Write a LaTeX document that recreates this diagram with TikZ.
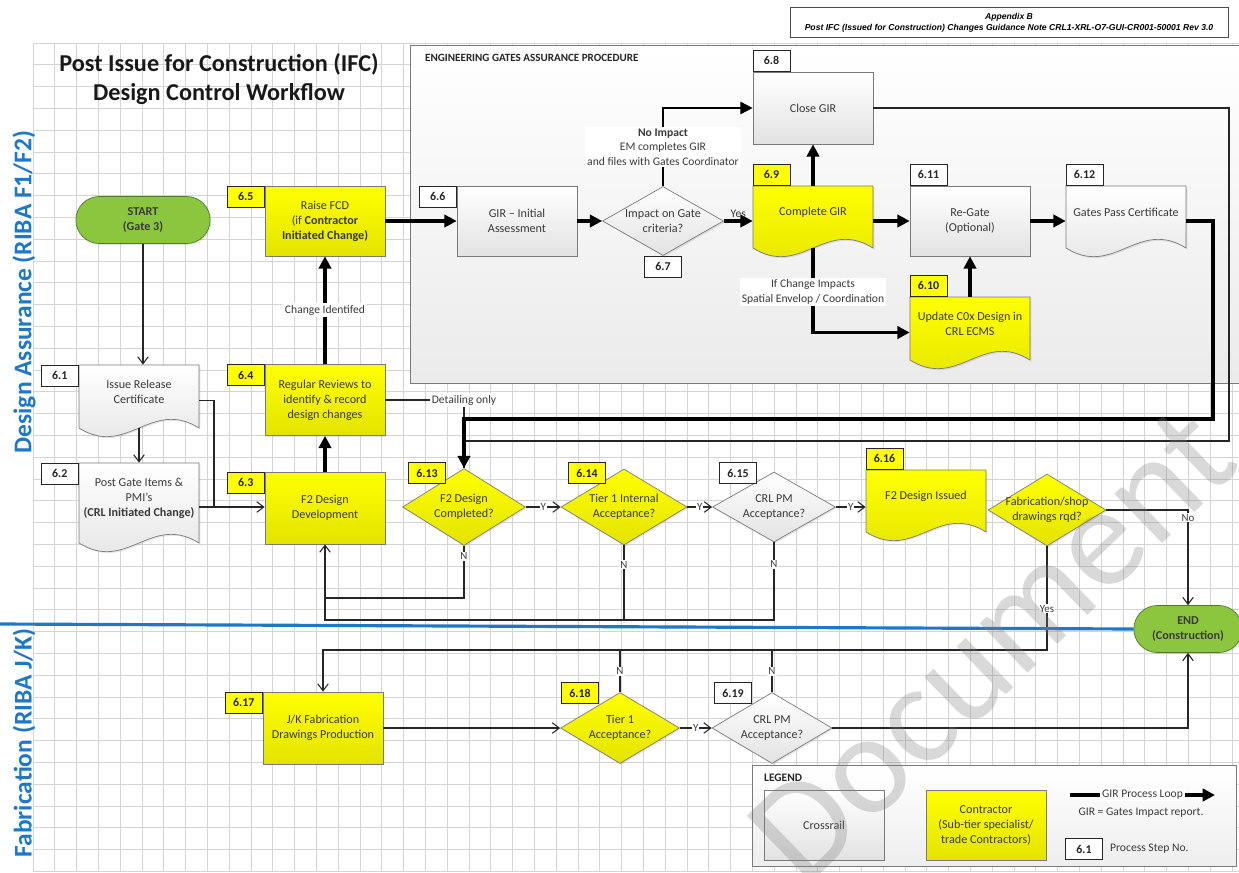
\documentclass[tikz,border=0pt]{standalone}
\usepackage{fontspec}
\setmainfont{Carlito}
\newfontfamily\hdrfont{Liberation Sans}
\usetikzlibrary{arrows.meta,shapes.geometric,shapes.misc,shadows}

\definecolor{cyel}{HTML}{FFFF00}
\definecolor{cyeldk}{HTML}{E3E300}
\definecolor{cgrey}{HTML}{E2E2E2}
\definecolor{cedge}{HTML}{7A7A7A}
\definecolor{cgreen}{HTML}{8CC63F}
\definecolor{cgreendk}{HTML}{4F7A28}
\definecolor{cblue}{HTML}{1E78C8}
\definecolor{ctext}{HTML}{3A3A3A}
\definecolor{cgrid}{HTML}{D4D4D4}

\newcommand{\zb}[1]{\makebox[0pt]{#1}}
% document symbol: name, left, top, side height, look, text
\newcommand{\docshape}[6]{%
  \path[#5] (#2,#3) -- (#2+120,#3) -- (#2+120,#3+#4)
    .. controls (#2+72,#3+#4-30) and (#2+48,#3+#4+30) .. (#2,#3+#4) -- cycle;
  \node[docanchor,minimum height={(#4+8)*0.02cm}] (#1) at (#2+60,#3+#4/2+4) {};
  \coordinate (#1-b) at (#2+60,#3+#4);
  \node[boxtext] (#1-t) at (#2+60,#3+#4/2-5) {#6};
}

\begin{document}
\begin{tikzpicture}[x=0.02cm,y=-0.02cm,>={Triangle[length=7pt,width=7pt]},
                    font=\fontsize{6.9}{8.5}\selectfont]
  \tikzstyle{boxtext}=[text=ctext,align=center,font=\fontsize{6.9}{8.5}\selectfont]
  \tikzstyle{crl}=[draw=cedge,top color=white,bottom color=cgrey,
                   drop shadow={opacity=0.2,shadow xshift=0.8pt,shadow yshift=-0.8pt}]
  \tikzstyle{con}=[draw=cedge,top color=cyel,bottom color=cyeldk,
                   drop shadow={opacity=0.2,shadow xshift=0.8pt,shadow yshift=-0.8pt}]
  \tikzstyle{procbox}=[rectangle,boxtext,minimum width=2.4cm,minimum height=1.4cm,inner sep=1pt]
  \tikzstyle{docanchor}=[rectangle,minimum width=2.4cm,inner sep=0pt]
  \tikzstyle{gate}=[diamond,boxtext,inner sep=0pt]
  \tikzstyle{tag}=[rectangle,draw=black!85,fill=white,text=black!85,
                   font=\fontsize{6.8}{8}\selectfont\bfseries,
                   minimum width=0.74cm,minimum height=0.42cm,inner sep=0pt]
  \tikzstyle{ktag}=[tag,fill=cyel]
  \tikzstyle{terminal}=[rounded rectangle,draw=cgreendk,fill=cgreen,text=ctext,align=center,
                        font=\fontsize{6.9}{8.5}\selectfont\bfseries,minimum height=0.94cm,
                        drop shadow={opacity=0.2,shadow xshift=0.8pt,shadow yshift=-0.8pt}]
  \tikzstyle{flow}=[draw=black!85,line width=0.6pt,-{Straight Barb[length=4pt,width=6pt]}]
  \tikzstyle{flowline}=[draw=black!85,line width=0.6pt]
  \tikzstyle{loopflow}=[draw=black,line width=1.8pt,->]
  \tikzstyle{lbl}=[fill=white,inner sep=1pt,text=ctext,align=center,font=\fontsize{6.6}{8.2}\selectfont]
  \tikzstyle{yn}=[fill=white,inner sep=0.6pt,text=ctext,font=\fontsize{6.2}{7}\selectfont]

  \useasboundingbox (0,0) rectangle (1239,872);

  % grid paper
  \foreach \gx in {0,...,55}
    \draw[cgrid,line width=0.5pt] (33+\gx*21.8,43) -- (33+\gx*21.8,872);
  \foreach \gy in {0,...,38}
    \draw[cgrid,line width=0.5pt] (33,43+\gy*21.8) -- (1239,43+\gy*21.8);

  \node[draw=black!70,fill=white,minimum width=8.76cm,minimum height=0.58cm,align=center,
        font=\hdrfont\fontsize{4.9}{6.2}\selectfont\bfseries\itshape] (hdr) at (1009,22.5)
        {Appendix B\\Post IFC (Issued for Construction) Changes Guidance Note CRL1-XRL-O7-GUI-CR001-50001 Rev 3.0};

  \node[font=\fontsize{13.8}{16.5}\selectfont\bfseries,align=center,text=black!90] (ttl) at (219,79)
        {Post Issue for Construction (IFC)\\Design Control Workflow};
  \node[rotate=90,text=cblue,font=\fontsize{14.5}{15}\selectfont\bfseries,inner sep=0pt] (lane1) at (24,292)
        {Design Assurance (RIBA F1/F2)};
  \node[rotate=90,text=cblue,font=\fontsize{14.5}{15}\selectfont\bfseries,inner sep=0pt,anchor=east] (lane2) at (24,628)
        {Fabrication (RIBA J/K)};

  % engineering gates panel
  \node[draw=cedge,top color=white,bottom color=cgrey!70,anchor=north west,inner sep=0pt,
        minimum width=16.9cm,minimum height=6.76cm] (eng) at (410,45) {};
  \node[anchor=west,font=\fontsize{6.3}{7}\selectfont\bfseries,text=black!85] (engt) at (419,58)
        {ENGINEERING GATES ASSURANCE PROCEDURE};

  \coordinate (bl) at (0,624);

  % design assurance lane
  \node[terminal,minimum width=2.92cm] (start) at (143,220) {START\\(Gate 3)};
  \docshape{i1}{79}{365}{63}{crl}{Issue Release\\Certificate}
  \docshape{i2}{79}{463}{80}{crl}{Post Gate Items \&\\PMI’s\\\textbf{(CRL Initiated Change)}}
  \node[tag,anchor=north east] (t1) at (i1.north west) {6.1};
  \node[tag,anchor=north east] (t2) at (i2.north west) {6.2};

  \node[procbox,con] (b5) at (325,221) {Raise FCD\\(if \textbf{Contractor}\\\textbf{Initiated Change)}};
  \node[procbox,con,minimum height=1.42cm] (b4) at (325,400) {Regular Reviews to\\identify \& record\\design changes};
  \node[procbox,con,minimum height=1.44cm] (b3) at (325,508) {F2 Design\\Development};
  \node[ktag,anchor=north east] (t5) at (b5.north west) {6.5};
  \node[ktag,anchor=north east] (t4) at (b4.north west) {6.4};
  \node[ktag,anchor=north east] (t3) at (b3.north west) {6.3};

  \node[procbox,crl] (g6) at (517,221) {GIR – Initial\\Assessment};
  \node[tag,anchor=north east] (t6) at (g6.north west) {6.6};
  \node[gate,crl,minimum width=2.42cm,minimum height=1.38cm] (q7) at (663,221)
        {\zb{Impact on Gate}\\\zb{criteria?}};
  \node[tag,anchor=north] (t7) at (q7.south) {6.7};
  \node[procbox,crl,minimum height=1.44cm] (c8) at (813,108) {Close GIR};
  \node[tag,anchor=south west] (t8) at (c8.north west) {6.8};
  \docshape{c9}{753}{186}{62}{con}{Complete GIR}
  \node[ktag,anchor=south west] (t9) at (c9.north west) {6.9};
  \node[procbox,crl] (r11) at (970,221) {Re-Gate\\(Optional)};
  \node[tag,anchor=south west] (t11) at (r11.north west) {6.11};
  \docshape{u10}{910}{297}{63}{con}{Update C0x Design in\\CRL ECMS}
  \node[ktag,anchor=south west] (t10) at (u10.north west) {6.10};
  \docshape{p12}{1066}{186}{62}{crl}{Gates Pass Certificate}
  \node[tag,anchor=south west] (t12) at (p12.north west) {6.12};

  \node[gate,con,minimum width=2.46cm,minimum height=1.54cm] (d13) at (464,507)
        {\zb{F2 Design}\\\zb{Completed?}};
  \node[ktag] (t13) at (427,473) {6.13};
  \node[gate,con,minimum width=2.52cm,minimum height=1.52cm] (d14) at (624,507)
        {\zb{Tier 1 Internal}\\\zb{Acceptance?}};
  \node[ktag] (t14) at (587,473) {6.14};
  \node[gate,crl,minimum width=2.46cm,minimum height=1.4cm] (d15) at (774,507)
        {\zb{CRL PM}\\\zb{Acceptance?}};
  \node[tag] (t15) at (738,473) {6.15};
  \docshape{f16}{866}{470}{62}{con}{F2 Design Issued}
  \node[ktag,anchor=south west] (t16) at (f16.north west) {6.16};
  \node[gate,con,minimum width=2.36cm,minimum height=1.44cm] (q16) at (1047,510)
        {\zb{Fabrication/shop}\\\zb{drawings rqd?}};
  \node[terminal,minimum width=2.4cm] (endn) at (1188,629) {END\\(Construction)};

  % fabrication lane
  \node[procbox,con,minimum height=1.44cm] (j17) at (323,728) {J/K Fabrication\\Drawings Production};
  \node[ktag,anchor=north east] (t17) at (j17.north west) {6.17};
  \node[gate,con,minimum width=2.38cm,minimum height=1.42cm] (d18) at (620,728)
        {\zb{Tier 1}\\\zb{Acceptance?}};
  \node[ktag] (t18) at (580,693) {6.18};
  \node[gate,crl,minimum width=2.4cm,minimum height=1.42cm] (d19) at (772,728)
        {\zb{CRL PM}\\\zb{Acceptance?}};
  \node[tag] (t19) at (733,693) {6.19};

  % thin flows
  \coordinate (jn) at (214,508);
  \coordinate (lp1) at (1229,441);
  \coordinate (lp2) at (1213,419);
  \coordinate (n1) at (325,598);
  \coordinate (n2) at (325,620);
  \coordinate (yb) at (323,650);
  \draw[flow] (start.south) -- (start.south |- i1.north);
  \draw[flow] (i1-b) -- (i1-b |- i2.north);
  \draw[flowline] (i1.east) -| (jn);
  \draw[flow] (i2.east) -- (i2.east -| b3.west);
  \draw[flowline] (c8.east) -| (lp1) -| (d13.north);
  \draw[flowline] (b4.east) -| (d13.north) node[pos=0.5,lbl]{Detailing only};
  \draw[flow] (d13) -- (d14) node[midway,yn]{Y};
  \draw[flow] (d14) -- (d15) node[midway,yn]{Y};
  \draw[flow] (d15.east) -- (d15.east -| f16.west) node[midway,yn]{Y};
  \draw[flow] (q16.east) -| (endn.north) node[pos=0.54,yn]{No};
  \draw[flow] (q16.south) |- (yb) node[pos=0.3,yn]{Yes} -- (j17.north);
  \draw[flow] (d13.south) |- (n1) node[pos=0.1,yn]{N} -- (b3.south);
  \draw[flowline] (d14.south) |- (n2) node[pos=0.13,yn]{N} -- (n1);
  \draw[flowline] (d15.south) |- (d14.south |- n2) node[pos=0.14,yn]{N};
  \draw[flow] (j17) -- (d18);
  \draw[flow] (d18) -- (d19) node[midway,yn]{Y};
  \draw[flowline] (d18.north) -- (d18.north |- yb) node[midway,yn]{N};
  \draw[flowline] (d19.north) -- (d19.north |- yb) node[midway,yn]{N};
  \draw[flow] (d19.east) -| (endn.south);

  % GIR process loop
  \draw[loopflow] (b3) -- (b4);
  \draw[loopflow] (b4) -- (b5) node[midway,lbl]{Change Identifed};
  \draw[loopflow] (b5) -- (g6);
  \draw[loopflow] (g6) -- (q7);
  \draw[loopflow] (q7) -- (c9) node[midway,above,lbl,fill=none]{Yes};
  \draw[draw=black,line width=1pt,->] (q7.north) |- (c8.west)
        node[pos=0.25,lbl]{\textbf{No Impact}\\EM completes GIR\\and files with Gates Coordinator};
  \draw[loopflow] (c9) -- (c8);
  \draw[loopflow] (c9) -- (r11);
  \draw[loopflow] (c9-b) |- (u10.west)
        node[pos=0.26,lbl]{If Change Impacts\\Spatial Envelop / Coordination};
  \draw[loopflow] (u10) -- (r11);
  \draw[loopflow] (r11) -- (p12);
  \draw[loopflow] (p12.east) -| (lp2) -| (d13.north);

  \draw[cblue,line width=1.8pt] (bl) -- (endn.west);

  % legend
  \node[draw=cedge,top color=white,bottom color=cgrey!60,anchor=north west,inner sep=0pt,
        minimum width=9.68cm,minimum height=2.02cm] (lgd) at (752,765) {};
  \node[anchor=west,font=\fontsize{6.5}{7}\selectfont\bfseries,text=black!85] (lgdt) at (758,778) {LEGEND};
  \node[procbox,crl] (lcrl) at (824,825) {Crossrail};
  \node[procbox,con] (lcon) at (986,825) {Contractor\\(Sub-tier specialist/\\trade Contractors)};
  \coordinate (la) at (1070,795);
  \coordinate (lb) at (1215,795);
  \draw[loopflow] (la) -- (lb) node[midway,lbl]{GIR Process Loop};
  \node[lbl,fill=none] (lgir) at (1141,813) {GIR = Gates Impact report.};
  \node[tag] (lt) at (1084,849) {6.1};
  \node[lbl,fill=none,anchor=west] (ltx) at (1108,849) {Process Step No.};

  % watermark
  \node[rotate=44,text=gray,opacity=0.3,font=\fontsize{82}{82}\selectfont] (wm) at (992,645) {Document};
\end{tikzpicture}
\end{document}
